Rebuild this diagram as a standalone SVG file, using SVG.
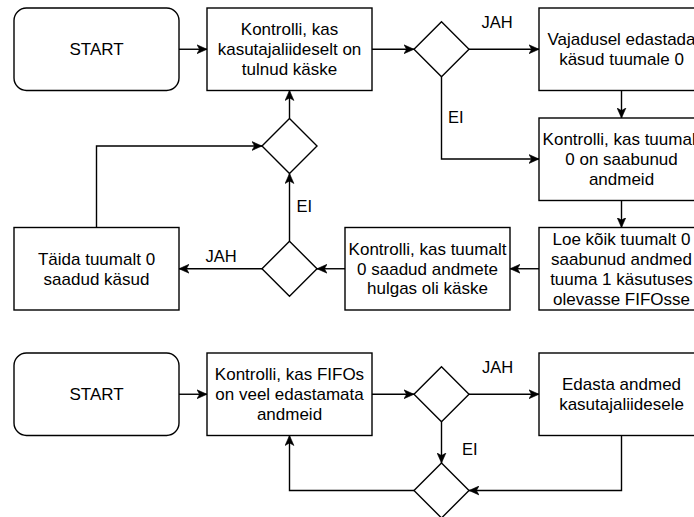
<svg xmlns="http://www.w3.org/2000/svg" width="694" height="517" viewBox="0 0 694 517">
<defs>
<marker id="arr" markerUnits="userSpaceOnUse" markerWidth="10" markerHeight="10" viewBox="0 0 10 10" refX="10" refY="5" orient="auto">
<path d="M0,0.6 L10,5 L0,9.4 L2.6,5 Z" fill="#000" stroke="#000" stroke-width="0.6"/>
</marker>
<style>
.b{fill:#fff;stroke:#000;stroke-width:1.4}
.t{font-family:"Liberation Sans",Arial,sans-serif;font-size:17px;fill:#000;text-anchor:middle}
.l{font-family:"Liberation Sans",Arial,sans-serif;font-size:16.5px;fill:#000}
.c{fill:none;stroke:#000;stroke-width:1.4;marker-end:url(#arr)}
</style>
</defs>
<rect width="694" height="517" fill="#fff"/>
<g id="connectors">
<path class="c" d="M179,49.25 H207"/>
<path class="c" d="M372,49.25 H414"/>
<path class="c" d="M469,49.25 H539"/>
<path class="c" d="M621.5,90.5 V118"/>
<path class="c" d="M441.5,76.75 V159 H539"/>
<path class="c" d="M621.5,200.5 V227.5"/>
<path class="c" d="M539,268.75 H510"/>
<path class="c" d="M345,268.75 H317"/>
<path class="c" d="M262,268.75 H179"/>
<path class="c" d="M289.5,241.25 V173.5"/>
<path class="c" d="M96.5,227.5 V146 H262"/>
<path class="c" d="M289.5,118.5 V90.5"/>
<path class="c" d="M179,394.25 H207"/>
<path class="c" d="M372,394.25 H414"/>
<path class="c" d="M469,394.25 H539"/>
<path class="c" d="M441.5,421.75 V463"/>
<path class="c" d="M621.5,435.5 V490.5 H469"/>
<path class="c" d="M414,490.5 H289.5 V435.5"/>
<text class="l" x="481.5" y="28">JAH</text>
<text class="l" x="448" y="123.3">EI</text>
<text class="l" x="205.5" y="262.3">JAH</text>
<text class="l" x="296.5" y="212.3">EI</text>
<text class="l" x="482" y="372.7">JAH</text>
<text class="l" x="462" y="455">EI</text>
</g>
<g id="start1"><rect class="b" x="14" y="8" width="165" height="82.5" rx="12.4"/><text class="t" x="96.5" y="55">START</text></g>
<g id="check-ui"><rect class="b" x="207" y="8" width="165" height="82.5"/><text class="t" x="289.5"><tspan x="289.5" y="35.2">Kontrolli, kas</tspan><tspan x="289.5" y="55">kasutajaliideselt on</tspan><tspan x="289.5" y="74.8">tulnud käske</tspan></text></g>
<g id="d1"><polygon class="b" points="441.5,21.75 469,49.25 441.5,76.75 414,49.25"/></g>
<g id="forward"><rect class="b" x="539" y="8" width="165" height="82.5"/><text class="t" x="621.5"><tspan x="621.5" y="45.1">Vajadusel edastada</tspan><tspan x="621.5" y="64.9">käsud tuumale 0</tspan></text></g>
<g id="check-core"><rect class="b" x="539" y="118" width="165" height="82.5"/><text class="t" x="621.5"><tspan x="621.5" y="145.2">Kontrolli, kas tuumalt</tspan><tspan x="621.5" y="165">0 on saabunud</tspan><tspan x="621.5" y="184.8">andmeid</tspan></text></g>
<g id="read"><rect class="b" x="539" y="227.5" width="165" height="82.5"/><text class="t" x="621.5"><tspan x="621.5" y="245.3">Loe kõik tuumalt 0</tspan><tspan x="621.5" y="265.1">saabunud andmed</tspan><tspan x="621.5" y="284.9">tuuma 1 käsutuses</tspan><tspan x="621.5" y="304.7">olevasse FIFOsse</tspan></text></g>
<g id="check-cmd"><rect class="b" x="345" y="227.5" width="165" height="82.5"/><text class="t" x="427.5"><tspan x="427.5" y="254.7">Kontrolli, kas tuumalt</tspan><tspan x="427.5" y="274.5">0 saadud andmete</tspan><tspan x="427.5" y="294.3">hulgas oli käske</tspan></text></g>
<g id="d2"><polygon class="b" points="289.5,241.25 317,268.75 289.5,296.25 262,268.75"/></g>
<g id="exec"><rect class="b" x="14" y="227.5" width="165" height="82.5"/><text class="t" x="96.5"><tspan x="96.5" y="264.8">Täida tuumalt 0</tspan><tspan x="96.5" y="284.6">saadud käsud</tspan></text></g>
<g id="d3"><polygon class="b" points="289.5,118.5 317,146 289.5,173.5 262,146"/></g>
<g id="start2"><rect class="b" x="14" y="353" width="165" height="82.5" rx="12.4"/><text class="t" x="96.5" y="400">START</text></g>
<g id="check-fifo"><rect class="b" x="207" y="353" width="165" height="82.5"/><text class="t" x="289.5"><tspan x="289.5" y="380.2">Kontrolli, kas FIFOs</tspan><tspan x="289.5" y="400">on veel edastamata</tspan><tspan x="289.5" y="419.8">andmeid</tspan></text></g>
<g id="d4"><polygon class="b" points="441.5,366.75 469,394.25 441.5,421.75 414,394.25"/></g>
<g id="send"><rect class="b" x="539" y="353" width="165" height="82.5"/><text class="t" x="621.5"><tspan x="621.5" y="390.1">Edasta andmed</tspan><tspan x="621.5" y="409.9">kasutajaliidesele</tspan></text></g>
<g id="d5"><polygon class="b" points="441.5,463 469,490.5 441.5,518 414,490.5"/></g>
</svg>
